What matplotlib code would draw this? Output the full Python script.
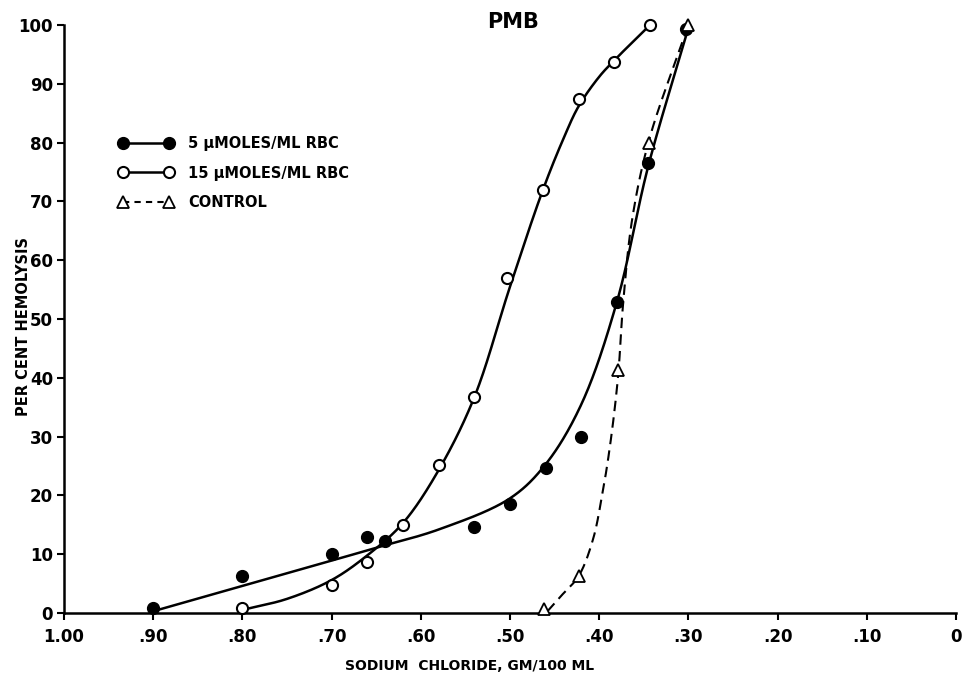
import numpy as np
import matplotlib
matplotlib.use('Agg')
import matplotlib.pyplot as plt
from matplotlib.lines import Line2D

# measured points (NaCl gm/100 ml, per cent hemolysis)
x_5 = [0.90, 0.80, 0.70, 0.66, 0.64, 0.54, 0.50, 0.46, 0.42, 0.38, 0.345, 0.303]
y_5 = [0.8, 6.3, 10.0, 13.0, 12.3, 14.7, 18.6, 24.7, 30.0, 52.9, 76.5, 99.3]

x_15 = [0.80, 0.70, 0.66, 0.62, 0.58, 0.54, 0.503, 0.463, 0.423, 0.383, 0.343]
y_15 = [0.8, 4.8, 8.7, 15.0, 25.1, 36.7, 57.0, 72.0, 87.5, 93.7, 100.0]

x_ctl = [0.462, 0.423, 0.379, 0.344, 0.30]
y_ctl = [0.7, 6.3, 41.3, 80.0, 100.0]

# hand drawn curves
cx_5 = [0.90, 0.80, 0.70, 0.65, 0.58, 0.50, 0.46, 0.42, 0.38, 0.345, 0.30]
cy_5 = [0.3, 4.6, 8.9, 11.1, 14.2, 19.5, 25.3, 35.5, 53.0, 76.0, 99.5]

cx_15 = [0.795, 0.75, 0.70, 0.66, 0.62, 0.58, 0.54, 0.50, 0.463, 0.44, 0.423, 0.40, 0.383, 0.343]
cy_15 = [0.7, 2.4, 5.6, 9.8, 15.3, 24.3, 36.7, 55.5, 72.0, 80.7, 86.2, 91.2, 94.0, 100.0]

cx_ctl = [0.458, 0.444, 0.423, 0.407, 0.397, 0.388, 0.379, 0.373, 0.363, 0.344, 0.30]
cy_ctl = [0.3, 2.7, 6.3, 12.5, 19.8, 28.3, 40.0, 53.0, 67.0, 80.5, 100.0]

x_ticks = [1.0, 0.9, 0.8, 0.7, 0.6, 0.5, 0.4, 0.3, 0.2, 0.1, 0.0]
x_tick_labels = ['1.00', '.90', '.80', '.70', '.60', '.50', '.40', '.30', '.20', '.10', '0']
y_ticks = [0, 10, 20, 30, 40, 50, 60, 70, 80, 90, 100]


def smooth(xs, ys, n=40):
    # centripetal catmull-rom through the curve knots (in pixel-like units)
    sx, sy = 892.0, 5.86
    p = np.column_stack([np.asarray(xs) * sx, np.asarray(ys) * sy])
    p = np.vstack([2 * p[0] - p[1], p, 2 * p[-1] - p[-2]])
    out = []
    for i in range(len(p) - 3):
        P0, P1, P2, P3 = p[i], p[i + 1], p[i + 2], p[i + 3]
        t0 = 0.0
        t1 = t0 + np.linalg.norm(P1 - P0) ** 0.5
        t2 = t1 + np.linalg.norm(P2 - P1) ** 0.5
        t3 = t2 + np.linalg.norm(P3 - P2) ** 0.5
        t = np.linspace(t1, t2, n)[:, None]
        A1 = (t1 - t) / (t1 - t0) * P0 + (t - t0) / (t1 - t0) * P1
        A2 = (t2 - t) / (t2 - t1) * P1 + (t - t1) / (t2 - t1) * P2
        A3 = (t3 - t) / (t3 - t2) * P2 + (t - t2) / (t3 - t2) * P3
        B1 = (t2 - t) / (t2 - t0) * A1 + (t - t0) / (t2 - t0) * A2
        B2 = (t3 - t) / (t3 - t1) * A2 + (t - t1) / (t3 - t1) * A3
        C = (t2 - t) / (t2 - t1) * B1 + (t - t1) / (t2 - t1) * B2
        out.append(C)
    c = np.vstack(out)
    return c[:, 0] / sx, c[:, 1] / sy


plt.rcParams['font.family'] = ['DejaVu Sans']
plt.rcParams['font.weight'] = 'bold'

fig = plt.figure(figsize=(9.63, 6.79), dpi=100)
ax = fig.add_axes([64 / 963, 1 - 613 / 679, 892 / 963, 588 / 679])

lw = 1.8
ax.plot(*smooth(cx_5, cy_5), color='black', lw=lw, solid_capstyle='round')
ax.plot(*smooth(cx_15, cy_15), color='black', lw=lw, solid_capstyle='round')
ax.plot(*smooth(cx_ctl, cy_ctl), color='black', lw=1.5, dashes=(5, 3))

ax.plot(x_5, y_5, 'o', color='black', markersize=8.5, clip_on=False, zorder=3)
ax.plot(x_15, y_15, 'o', mfc='white', mec='black', mew=1.5, markersize=8, clip_on=False, zorder=3)
ax.plot(x_ctl, y_ctl, '^', mfc='white', mec='black', mew=1.3, markersize=8.5, clip_on=False, zorder=3)

ax.set_xlim(1.0, 0.0)
ax.set_ylim(0, 100)
ax.set_xticks(x_ticks)
ax.set_xticklabels(x_tick_labels)
ax.set_yticks(y_ticks)
for s in ['top', 'right']:
    ax.spines[s].set_visible(False)
for s in ['left', 'bottom']:
    ax.spines[s].set_linewidth(1.8)
ax.tick_params(axis='both', direction='out', length=5, width=1.5, labelsize=12)
ax.tick_params(axis='x', pad=6)
ax.tick_params(axis='y', pad=3)
for lab in ax.get_xticklabels() + ax.get_yticklabels():
    lab.set_fontweight('bold')

ax.set_xlabel('SODIUM  CHLORIDE, GM/100 ML', fontsize=10, fontweight='bold')
ax.xaxis.set_label_coords(0.455, -0.079)
ax.set_ylabel('PER CENT HEMOLYSIS', fontsize=10.5, fontweight='bold')
ax.yaxis.set_label_coords(-0.037, 0.488)

fig.text(513 / 963, 1 - 22 / 679, 'PMB', ha='center', va='center', fontsize=15, fontweight='bold')

handles = [
    Line2D([], [], color='black', lw=lw, marker='o', markersize=8.5),
    Line2D([], [], color='black', lw=lw, marker='o', mfc='white', mew=1.5, markersize=8),
    Line2D([], [], color='black', lw=1.5, ls=(0, (3, 2.5)), marker='^', mfc='white', mew=1.3, markersize=8),
]
labels = ['5 \u00b5MOLES/ML RBC', '15 \u00b5MOLES/ML RBC', 'CONTROL']
leg = ax.legend(handles, labels, numpoints=2, frameon=False, loc='upper left',
                bbox_to_anchor=(119 / 963, 1 - 136 / 679), bbox_transform=fig.transFigure,
                borderpad=0, borderaxespad=0, handlelength=3.7, handletextpad=1.05,
                labelspacing=1.0, prop={'size': 10.5, 'weight': 'bold'})

fig.savefig('out.png', dpi=100)
